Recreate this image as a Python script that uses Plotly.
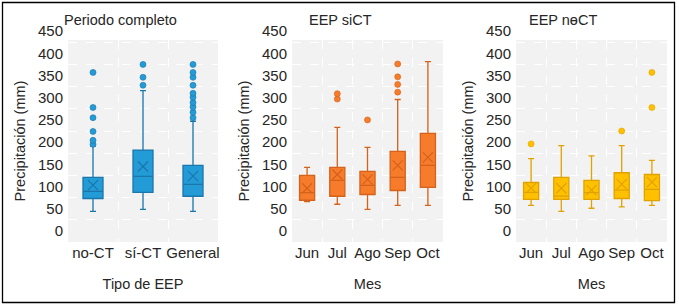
import plotly.graph_objects as go

W, H = 679, 307

# ---------------- data (in mm) ----------------
tipos = ["no-CT", "sí-CT", "General"]
q1_tipo = [73, 87, 78]
med_tipo = [89, 123, 105]
q3_tipo = [120.5, 182, 147.5]
lo_tipo = [44, 48.5, 44]
hi_tipo = [191, 316, 247]
mean_tipo = [103, 145, 123.5]
out_noct = [195, 204, 224, 255, 278, 357]
out_sict = [328, 346, 375]
out_general = [255, 267, 279, 289, 301, 310, 328, 346, 357, 375]

meses = ["Jun", "Jul", "Ago", "Sep", "Oct"]
q1_si = [69, 78, 82, 91, 98]
med_si = [86, 114, 102.5, 120.5, 147.5]
q3_si = [125, 143, 134, 179, 219.5]
lo_si = [66, 60, 48.5, 57.5, 57.5]
hi_si = [143, 233, 188, 296, 381.5]
mean_si = [96, 127, 116, 147.5, 165.5]
out_si_jul = [297, 309]
out_si_ago = [250]
out_si_sep = [312.5, 330, 347, 376]

q1_no = [71, 71, 71, 73, 68]
med_no = [87, 78.5, 86, 92, 93.5]
q3_no = [109, 120.5, 114, 131, 127]
lo_no = [57.5, 44, 51, 54, 57.5]
hi_no = [163, 192, 169, 192, 159]
mean_no = [96.5, 96, 92, 105.5, 110]
out_no_jun = [196]
out_no_sep = [225]
out_no_oct = [278, 357]

ytick_labels = ["0", "50", "100", "150", "200", "250", "300", "350", "400", "450"]
titles = ["Periodo completo", "EEP siCT", "EEP nɵCT"]
xtitles = ["Tipo de EEP", "Mes", "Mes"]
ytitle = "Precipitación (mm)"

# ---------------- styles ----------------
FONT = "Liberation Sans, Arial, sans-serif"
TXT = "#262626"
blue = dict(fill="#239bd6", line="#1b76ab")
orange = dict(fill="#f67b2a", line="#d4621b")
yellow = dict(fill="#ffc000", line="#dfa200")

fig = go.Figure()


def add_panel(k, cats, q1, med, q3, lo, hi, mean, outs, col, bw, ww, msize):
    xa = "x" if k == 1 else f"x{k}"
    ya = "y" if k == 1 else f"y{k}"
    fig.add_trace(go.Box(
        x=cats, q1=q1, median=med, q3=q3, lowerfence=lo, upperfence=hi,
        boxpoints=False, width=bw, whiskerwidth=ww,
        fillcolor=col["fill"], line=dict(color=col["line"], width=1.3),
        xaxis=xa, yaxis=ya, showlegend=False, hoverinfo="skip"))
    fig.add_trace(go.Scatter(
        x=cats, y=mean, mode="markers",
        marker=dict(symbol="x-thin", size=msize, color=col["line"],
                    line=dict(color=col["line"], width=1.2)),
        xaxis=xa, yaxis=ya, showlegend=False))
    ox, oy = [], []
    for c, vals in outs:
        ox += [c] * len(vals)
        oy += vals
    fig.add_trace(go.Scatter(
        x=ox, y=oy, mode="markers",
        marker=dict(symbol="circle", size=6, color=col["fill"],
                    line=dict(color=col["line"], width=0.6)),
        xaxis=xa, yaxis=ya, showlegend=False))


add_panel(1, tipos, q1_tipo, med_tipo, q3_tipo, lo_tipo, hi_tipo, mean_tipo,
          [("no-CT", out_noct), ("sí-CT", out_sict), ("General", out_general)],
          blue, 0.4, 0.3, 10)
add_panel(2, meses, q1_si, med_si, q3_si, lo_si, hi_si, mean_si,
          [("Jul", out_si_jul), ("Ago", out_si_ago), ("Sep", out_si_sep)],
          orange, 0.5, 0.4, 10)
add_panel(3, meses, q1_no, med_no, q3_no, lo_no, hi_no, mean_no,
          [("Jun", out_no_jun), ("Sep", out_no_sep), ("Oct", out_no_oct)],
          yellow, 0.5, 0.4, 10)

xdoms = [(68, 218), (292, 443), (516, 667)]
ytop, ybot = 40, 242
ydom = [(H - ybot) / H, (H - ytop) / H]
gridvals = [-25 + 50 * i for i in range(len(ytick_labels))]

layout = dict(
    width=W, height=H, margin=dict(l=0, r=0, t=0, b=0),
    paper_bgcolor="white", plot_bgcolor="#f2f2f2",
    font=dict(family=FONT, size=15, color=TXT),
    showlegend=False,
)
ncats = [3, 5, 5]
for i in range(3):
    sx = "" if i == 0 else str(i + 1)
    layout[f"xaxis{sx}"] = dict(
        domain=[xdoms[i][0] / W, xdoms[i][1] / W], anchor=f"y{sx}",
        type="category", range=[-0.5, ncats[i] - 0.5], tickson="boundaries",
        showgrid=True, gridcolor="white", griddash="dash", gridwidth=1,
        zeroline=False, showline=False, ticks="", tickangle=0,
        tickfont=dict(size=15, color=TXT),
        title=dict(text=xtitles[i], font=dict(size=14.5, color=TXT), standoff=18),
        automargin=False, fixedrange=True)
    layout[f"yaxis{sx}"] = dict(
        domain=ydom, anchor=f"x{sx}", range=[-25, 430],
        tickmode="array", tickvals=gridvals, ticktext=ytick_labels,
        ticklabelshift=-11, ticklabelstandoff=4,
        showgrid=True, gridcolor="white", griddash="dash", gridwidth=1,
        zeroline=False, showline=False, ticks="",
        tickfont=dict(size=15, color=TXT),
        title=dict(text=ytitle, font=dict(size=14.5, color=TXT), standoff=8),
        automargin=False, fixedrange=True)

title_x = [120, 340, 563]
layout["annotations"] = [
    dict(text=titles[i], x=title_x[i] / W, y=1 - 20 / H, xref="paper", yref="paper",
         xanchor="center", yanchor="middle", showarrow=False,
         font=dict(size=14.5, color=TXT, family=FONT))
    for i in range(3)
]
layout["shapes"] = [dict(type="rect", xref="paper", yref="paper",
                         x0=2.5 / W, x1=674.5 / W, y0=1 - 302.5 / H, y1=1 - 2.5 / H,
                         line=dict(color="black", width=1.3), fillcolor="rgba(0,0,0,0)",
                         layer="above")]

fig.update_layout(**layout)
fig.write_html("out.html", config={"displayModeBar": False},
               post_script="document.body.style.margin='0';document.body.style.padding='0';")
